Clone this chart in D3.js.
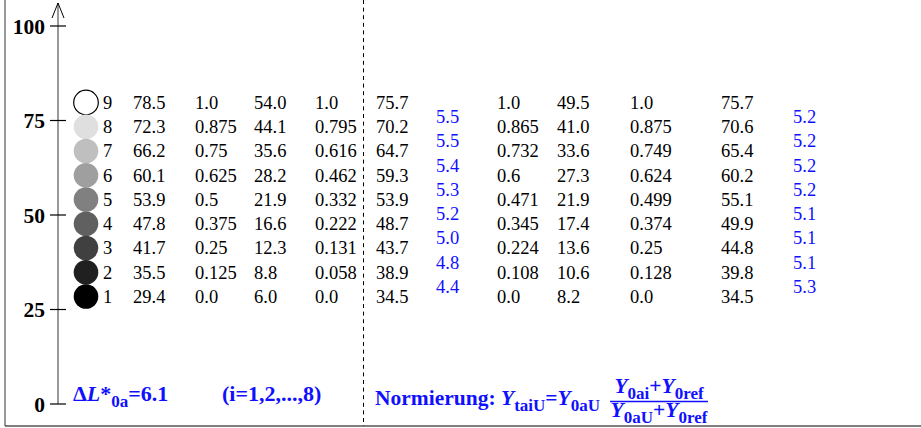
<!DOCTYPE html>
<html>
<head>
<meta charset="utf-8">
<script src="https://cdn.jsdelivr.net/npm/d3@7"></script>
<style>
  body { margin: 0; background: #fff; }
  text { font-family: "Liberation Serif", "Times New Roman", serif; }
</style>
</head>
<body>
<div id="graph"></div>
<script>
'use strict';

let W = 921;
let H = 428;

// rows, top (9) to bottom (1)
let ids = [9, 8, 7, 6, 5, 4, 3, 2, 1];
let lStar = ['78.5', '72.3', '66.2', '60.1', '53.9', '47.8', '41.7', '35.5', '29.4'];
let tGray = ['1.0', '0.875', '0.75', '0.625', '0.5', '0.375', '0.25', '0.125', '0.0'];
let y0 = ['54.0', '44.1', '35.6', '28.2', '21.9', '16.6', '12.3', '8.8', '6.0'];
let tY0 = ['1.0', '0.795', '0.616', '0.462', '0.332', '0.222', '0.131', '0.058', '0.0'];
let lStar2 = ['75.7', '70.2', '64.7', '59.3', '53.9', '48.7', '43.7', '38.9', '34.5'];
let dL2 = ['5.5', '5.5', '5.4', '5.3', '5.2', '5.0', '4.8', '4.4'];
let tGray3 = ['1.0', '0.865', '0.732', '0.6', '0.471', '0.345', '0.224', '0.108', '0.0'];
let y03 = ['49.5', '41.0', '33.6', '27.3', '21.9', '17.4', '13.6', '10.6', '8.2'];
let tY03 = ['1.0', '0.875', '0.749', '0.624', '0.499', '0.374', '0.25', '0.128', '0.0'];
let lStar3 = ['75.7', '70.6', '65.4', '60.2', '55.1', '49.9', '44.8', '39.8', '34.5'];
let dL3 = ['5.2', '5.2', '5.2', '5.2', '5.1', '5.1', '5.1', '5.3'];

let yTicks = [0, 25, 50, 75, 100];

let BLUE = '#1010ff';
let FS = '18.5px';

let svg = d3.select('#graph')
    .append('svg')
    .attr('width', W)
    .attr('height', H);

let yScale = d3.scaleLinear()
    .domain([0, 100])
    .range([404, 26]);

let rowScale = d3.scalePoint()
    .domain(ids)
    .range([102.5, 296.5]);

// frame
svg.append('line')
    .attr('x1', 5).attr('x2', 5)
    .attr('y1', 0).attr('y2', 426)
    .attr('stroke', '#555').attr('stroke-width', 1.2);
svg.append('line')
    .attr('x1', 5).attr('x2', W)
    .attr('y1', 426).attr('y2', 426)
    .attr('stroke', '#000').attr('stroke-width', 1.2);
svg.append('line')
    .attr('x1', 363.5).attr('x2', 363.5)
    .attr('y1', 0).attr('y2', 426)
    .attr('stroke', '#000').attr('stroke-width', 1)
    .attr('stroke-dasharray', '4,3.6');

// y axis
let AX = 58;
svg.append('line')
    .attr('x1', AX).attr('x2', AX)
    .attr('y1', 3).attr('y2', yScale(0))
    .attr('stroke', '#555').attr('stroke-width', 1.2);
svg.append('path')
    .attr('d', 'M' + (AX - 6) + ',18 L' + AX + ',3 L' + (AX + 6) + ',18')
    .attr('fill', 'none').attr('stroke', '#000').attr('stroke-width', 1);

let ticks = svg.append('g').selectAll('g')
    .data(yTicks)
    .enter()
    .append('g')
    .attr('transform', d => 'translate(0,' + yScale(d) + ')');
ticks.append('line')
    .attr('x1', AX - 8).attr('x2', AX + 8)
    .attr('stroke', '#000').attr('stroke-width', 1.2);
ticks.append('text')
    .attr('x', 45)
    .attr('dy', '0.35em')
    .attr('text-anchor', 'end')
    .style('font-size', '21.5px')
    .style('font-weight', 'bold')
    .text(d => d);

// gray circles
svg.selectAll('.dot')
    .data(ids)
    .enter()
    .append('circle')
    .attr('cx', 86)
    .attr('cy', d => rowScale(d))
    .attr('r', 12.3)
    .attr('fill', (d, i) => {
        let g = Math.round(255 * +tGray[i]);
        return d3.rgb(g, g, g);
    })
    .attr('stroke', (d, i) => +tGray[i] === 1 ? '#000' : 'none')
    .attr('stroke-width', 1.2);

// table columns
let cols = [
    { vals: ids.map(String), x: 103 },
    { vals: lStar, x: 133 },
    { vals: tGray, x: 195 },
    { vals: y0, x: 254 },
    { vals: tY0, x: 315 },
    { vals: lStar2, x: 376 },
    { vals: tGray3, x: 497 },
    { vals: y03, x: 557 },
    { vals: tY03, x: 630 },
    { vals: lStar3, x: 721 },
];

cols.forEach(c => {
    svg.append('g').selectAll('text')
        .data(c.vals)
        .enter()
        .append('text')
        .attr('x', c.x)
        .attr('y', (d, i) => rowScale(ids[i]))
        .attr('dy', '0.35em')
        .style('font-size', FS)
        .attr('fill', '#000')
        .text(d => d);
});

let blueCols = [
    { vals: dL2, x: 436 },
    { vals: dL3, x: 793 },
];

blueCols.forEach(c => {
    svg.append('g').selectAll('text')
        .data(c.vals)
        .enter()
        .append('text')
        .attr('x', c.x)
        .attr('y', (d, i) => (rowScale(ids[i]) + rowScale(ids[i + 1])) / 2 + 2)
        .attr('dy', '0.35em')
        .style('font-size', FS)
        .attr('fill', BLUE)
        .text(d => d);
});

// bottom annotations
function label (x, y, parts, size, subSize) {
    let t = svg.append('text')
        .attr('x', x)
        .attr('y', y)
        .attr('fill', BLUE)
        .style('font-size', size + 'px')
        .style('font-weight', 'bold');
    let shift = 0;
    parts.forEach(p => {
        let sub = p.sub ? 5.5 : 0;
        let ts = t.append('tspan')
            .attr('dy', sub - shift)
            .text(p.t);
        if (p.sub) ts.style('font-size', subSize + 'px');
        if (p.it) ts.style('font-style', 'italic');
        shift = sub;
    });
    return t;
}

label(73, 401, [
    { t: 'Δ' }, { t: 'L', it: true }, { t: '*' }, { t: '0a', sub: true }, { t: '=6.1' }
], 22, 17);
label(222, 401, [{ t: '(i=1,2,...,8)' }], 22, 17);

label(375, 405, [
    { t: 'Normierung: ' }, { t: 'Y', it: true }, { t: 'taiU', sub: true },
    { t: '=' }, { t: 'Y', it: true }, { t: '0aU', sub: true }
], 21.5, 17);

label(659, 393, [
    { t: 'Y', it: true }, { t: '0ai', sub: true }, { t: '+' },
    { t: 'Y', it: true }, { t: '0ref', sub: true }
], 21.5, 17).attr('text-anchor', 'middle');
label(659, 417, [
    { t: 'Y', it: true }, { t: '0aU', sub: true }, { t: '+' },
    { t: 'Y', it: true }, { t: '0ref', sub: true }
], 21.5, 17).attr('text-anchor', 'middle');

svg.append('line')
    .attr('x1', 610).attr('x2', 708)
    .attr('y1', 401.5).attr('y2', 401.5)
    .attr('stroke', BLUE).attr('stroke-width', 1.3);
</script>
</body>
</html>
